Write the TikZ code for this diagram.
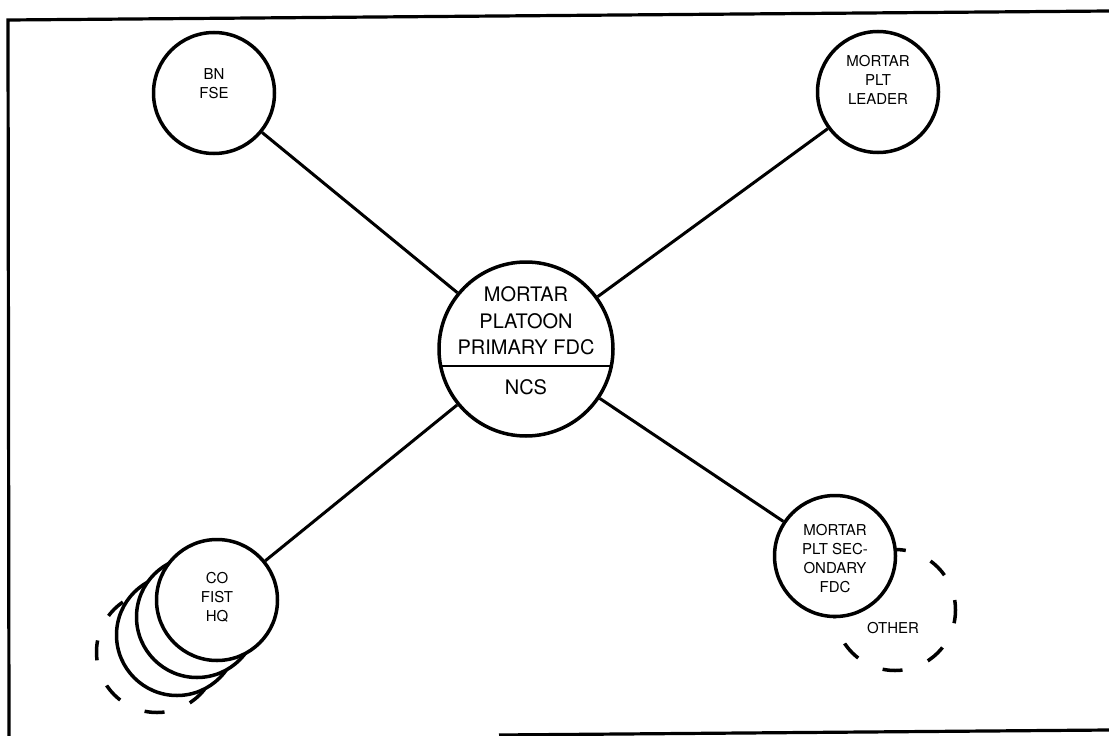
\documentclass[tikz,border=0pt]{standalone}
\usepackage{fontspec}
\setmainfont{TeX Gyre Heros}
\usetikzlibrary{calc}
\begin{document}
\begin{tikzpicture}[x=1pt,y=-1pt,
  stn/.style={circle,draw,line width=3.5pt,fill=white,minimum size=121pt,inner sep=0pt},
  ghost/.style={stn,dash pattern=on 20pt off 27.1pt,dash phase=10pt},
  hub/.style={circle,draw,line width=3.5pt,fill=white,minimum size=174pt,inner sep=0pt},
  small/.style={align=center,inner sep=0pt,font=\fontsize{15}{19}\selectfont},
  big/.style={align=center,inner sep=0pt,font=\fontsize{20}{26.7}\selectfont},
  link/.style={line width=3pt},
  frame/.style={line width=3.2pt}]
\useasboundingbox (0,0) rectangle (1109,736);
% frame
\coordinate (f1) at (1109,11);
\coordinate (f2) at (8,20);
\coordinate (f3) at (9,736);
\coordinate (f4) at (499,735);
\coordinate (f5) at (1109,730);
\draw[frame] (f1) -- (f2) -- (f3);
\draw[frame] (f4) -- (f5);
% other (behind secondary)
\node[ghost] (oth) at (895,610) {};
% CO stack (back to front)
\node[ghost] (co3) at (157,652) {};
\node[stn] (co2) at (177,635) {};
\node[stn] (co1) at (197,617) {};
\node[stn] (co) at (217,600) {};
% stations
\node[stn] (bn) at (214,93) {};
\node[stn] (ldr) at (878,92) {};
\node[stn] (sec) at (835,556) {};
\node[hub] (c) at (526,349) {};
% connectors
\draw[link] (c) -- (bn);
\draw[link] (c) -- (ldr);
\draw[link] (c) -- (co);
\draw[link] (c) -- (sec);
% divider
\draw[line width=1.8pt] ($(c.center)+(-85.3,17)$) -- ($(c.center)+(85.3,17)$);
% texts
\node[big] (ctext) at (526,321) {MORTAR\\PLATOON\\PRIMARY FDC};
\node[big] (ncs) at (526,387) {NCS};
\node[small] (bnt) at (214,83.5) {BN\\FSE};
\node[small] (ldrt) at (878,80) {MORTAR\\PLT\\LEADER};
\node[small] (cot) at (217,597) {CO\\FIST\\HQ};
\node[small] (sect) at (835,558.5) {MORTAR\\PLT SEC-\\ONDARY\\FDC};
\node[small] (otht) at (893,628) {OTHER};
\end{tikzpicture}
\end{document}
